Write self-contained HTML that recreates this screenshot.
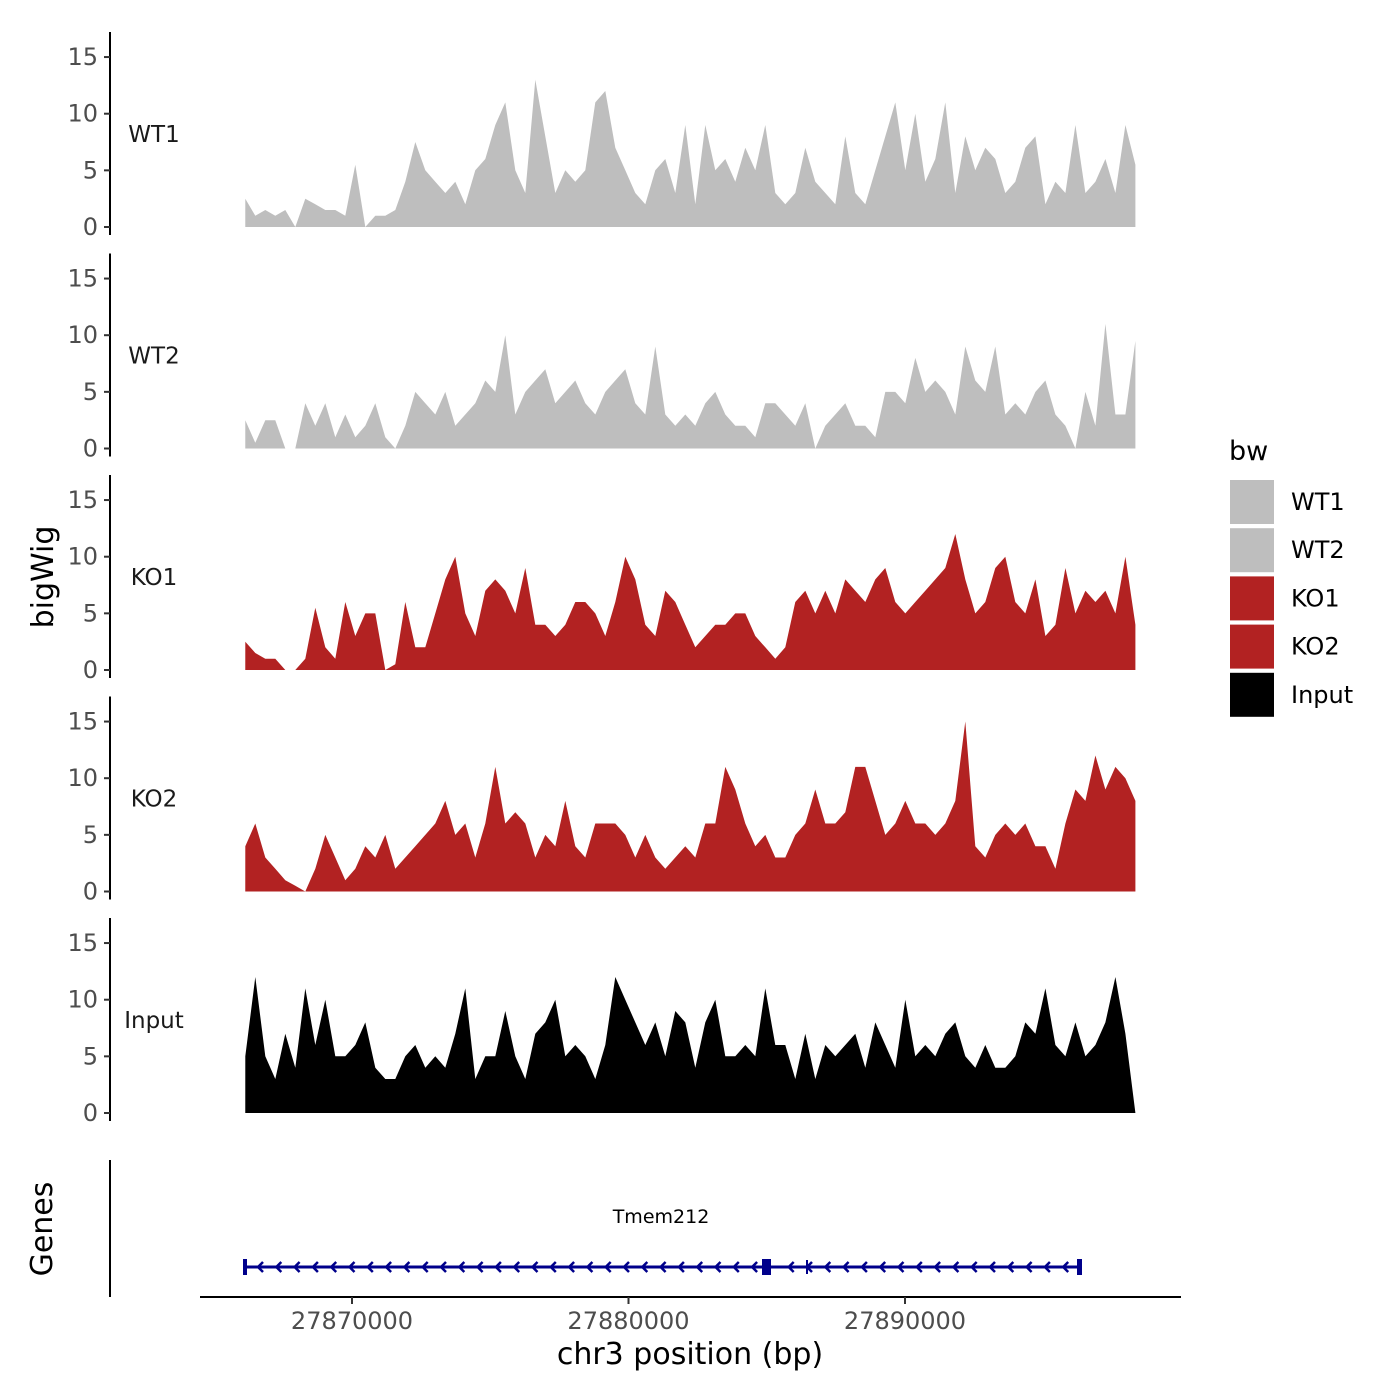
<!DOCTYPE html>
<html><head><meta charset="utf-8"><style>
body{margin:0;background:#fff}
svg{display:block;font-family:"DejaVu Sans","Liberation Sans",sans-serif}
</style></head><body>
<svg id="c" width="1400" height="1400" viewBox="0 0 1400 1400"></svg>
<script>
const trackNames=["WT1","WT2","KO1","KO2","Input"];
const startBp=27866140, stepBp=361.7;
const wt1=[2.5,1,1.5,1,1.5,0,2.5,2,1.5,1.5,1,5.5,0,1,1,1.5,4,7.5,5,4,3,4,2,5,6,9,11,5,3,13,8,3,5,4,5,11,12,7,5,3,2,5,6,3,9,2,9,5,6,4,7,5,9,3,2,3,7,4,3,2,8,3,2,5,8,11,5,10,4,6,11,3,8,5,7,6,3,4,7,8,2,4,3,9,3,4,6,3,9,5.5];
const wt2=[2.5,0.5,2.5,2.5,0,0,4,2,4,1,3,1,2,4,1,0,2,5,4,3,5,2,3,4,6,5,10,3,5,6,7,4,5,6,4,3,5,6,7,4,3,9,3,2,3,2,4,5,3,2,2,1,4,4,3,2,4,0,2,3,4,2,2,1,5,5,4,8,5,6,5,3,9,6,5,9,3,4,3,5,6,3,2,0,5,2,11,3,3,9.5];
const ko1=[2.5,1.5,1,1,0,0,1,5.5,2,1,6,3,5,5,0,0.5,6,2,2,5,8,10,5,3,7,8,7,5,9,4,4,3,4,6,6,5,3,6,10,8,4,3,7,6,4,2,3,4,4,5,5,3,2,1,2,6,7,5,7,5,8,7,6,8,9,6,5,6,7,8,9,12,8,5,6,9,10,6,5,8,3,4,9,5,7,6,7,5,10,4];
const ko2=[4,6,3,2,1,0.5,0,2,5,3,1,2,4,3,5,2,3,4,5,6,8,5,6,3,6,11,6,7,6,3,5,4,8,4,3,6,6,6,5,3,5,3,2,3,4,3,6,6,11,9,6,4,5,3,3,5,6,9,6,6,7,11,11,8,5,6,8,6,6,5,6,8,15,4,3,5,6,5,6,4,4,2,6,9,8,12,9,11,10,8];
const inp=[5,12,5,3,7,4,11,6,10,5,5,6,8,4,3,3,5,6,4,5,4,7,11,3,5,5,9,5,3,7,8,10,5,6,5,3,6,12,10,8,6,8,5,9,8,4,8,10,5,5,6,5,11,6,6,3,7,3,6,5,6,7,4,8,6,4,10,5,6,5,7,8,5,4,6,4,4,5,8,7,11,6,5,8,5,6,8,12,7,0];
const series=[wt1,wt2,ko1,ko2,inp];
const colors=["#bebebe","#bebebe","#b22222","#b22222","#000000"];
const yTicks=[0,5,10,15];
const xTicks=[27870000,27880000,27890000];
const xTickLabels=["27870000","27880000","27890000"];

const NS="http://www.w3.org/2000/svg";
const svg=document.getElementById("c");
function el(t,a,p){const e=document.createElementNS(NS,t);for(const k in a)e.setAttribute(k,a[k]);(p||svg).appendChild(e);return e;}
const xScale=bp=>352+(bp-27870000)*0.02765;
const base0=227, panelGap=221.5, pxPerUnit=11.33;

series.forEach((vals,t)=>{
  const g=el("g",{});
  
  
  const b=base0+t*panelGap;
  const yS=v=>b-v*pxPerUnit;
  let d="M"+xScale(startBp)+","+b;
  vals.forEach((v,i)=>{d+=" L"+xScale(startBp+i*stepBp).toFixed(1)+","+yS(v).toFixed(1);});
  d+=" L"+xScale(startBp+(vals.length-1)*stepBp).toFixed(1)+","+b+" Z";
  const a=el("path",{d:d,fill:colors[t]},g);
  
  
  const ax=el("line",{x1:110,x2:110,y1:b-195,y2:b+8,stroke:"#000","stroke-width":2},g);
  
  
  yTicks.forEach(v=>{
    el("line",{x1:104,x2:110,y1:yS(v),y2:yS(v),stroke:"#333","stroke-width":2},g);
    const tx=el("text",{x:98,y:yS(v)+8,"text-anchor":"end","font-size":24,fill:"#4d4d4d"},g);
    tx.textContent=v;
    
    
  });
  const lb=el("text",{x:154,y:b-85,"text-anchor":"middle","font-size":23,fill:"#1a1a1a"},g);
  lb.textContent=trackNames[t];
  
  
});

(function(){
const gy=1267;
let s='';
s+='<line x1="110" x2="110" y1="1160" y2="1297" stroke="#000" stroke-width="2"/>';
s+='<line x1="200" x2="1181" y1="1297" y2="1297" stroke="#000" stroke-width="2"/>';
xTicks.forEach((v,i)=>{const x=xScale(v);
 s+='<line x1="'+x+'" x2="'+x+'" y1="1297" y2="1304" stroke="#333" stroke-width="2"/>';
 s+='<text x="'+x+'" y="1329" text-anchor="middle" font-size="24" fill="#4d4d4d">'+xTickLabels[i]+'</text>';});
s+='<text x="690" y="1364" text-anchor="middle" font-size="30" fill="#000">chr3 position (bp)</text>';
s+='<text transform="translate(53,577) rotate(-90)" text-anchor="middle" font-size="30" fill="#000">bigWig</text>';
s+='<text transform="translate(52,1229) rotate(-90)" text-anchor="middle" font-size="30" fill="#000">Genes</text>';
s+='<g>';
s+='<line x1="245" x2="1079" y1="'+gy+'" y2="'+gy+'" stroke="#00008b" stroke-width="3"/>';
for(let x=258;x<1072;x+=18.3){ if(Math.abs(x-766)<8)continue; s+='<polyline points="'+(x+5)+','+(gy-5)+' '+x+','+gy+' '+(x+5)+','+(gy+5)+'" fill="none" stroke="#00008b" stroke-width="2.5"/>';}
s+='<rect x="243" y="'+(gy-8)+'" width="4" height="16" fill="#00008b"/>';
s+='<rect x="1077" y="'+(gy-8)+'" width="5" height="16" fill="#00008b"/>';
s+='<rect x="762" y="'+(gy-8)+'" width="9" height="16" fill="#00008b"/>';
s+='<line x1="807" x2="807" y1="'+(gy-7)+'" y2="'+(gy+7)+'" stroke="#00008b" stroke-width="2"/>';
s+='<text x="661" y="1223" text-anchor="middle" font-size="19" fill="#000">Tmem212</text></g>';
s+='<g><text x="1229" y="460" font-size="27" fill="#000">bw</text>';
trackNames.forEach((n,i)=>{const y=480+i*48.2;
 s+='<rect x="1230" y="'+y+'" width="44" height="44" fill="'+colors[i]+'"/>';
 s+='<text x="1291" y="'+(y+30)+'" font-size="24" fill="#000">'+n+'</text>';});
s+='</g>';
svg.insertAdjacentHTML('beforeend',s);
})();
</script>
</body></html>
